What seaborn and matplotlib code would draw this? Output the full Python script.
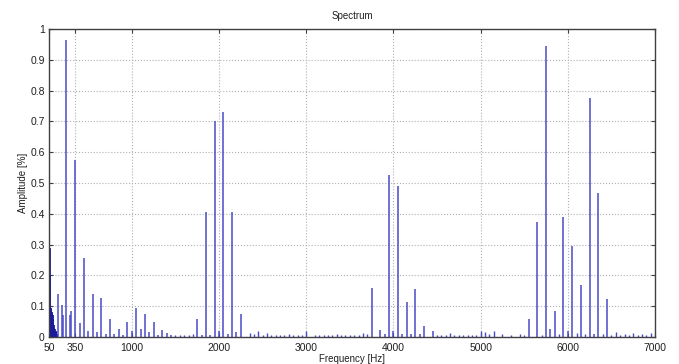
import matplotlib
matplotlib.use("Agg")
import matplotlib.pyplot as plt
import seaborn as sns
from matplotlib.ticker import FuncFormatter

# ---- data ----
# low-frequency dense cluster
low_freq = [58, 63, 66, 70, 74, 78, 82, 86, 90, 95, 100, 105, 110, 115, 120, 125, 130, 135, 140, 145]
low_amp = [0.29, 0.20, 0.10, 0.095, 0.09, 0.085, 0.082, 0.075, 0.07, 0.06, 0.05, 0.04, 0.03,
           0.025, 0.02, 0.018, 0.015, 0.012, 0.01, 0.01]

# harmonic lines
harm_freq = [150, 200, 210, 250, 290, 300, 350, 400, 450, 500, 550, 600, 650, 700, 750, 800,
             850, 900, 950, 1000, 1050, 1100, 1150, 1200, 1250, 1300, 1350, 1400, 1450,
             1750, 1800, 1850, 1900, 1950, 2000, 2050, 2100, 2150, 2200, 2250,
             3750, 3850, 3900, 3950, 4000, 4050, 4100, 4150, 4200, 4250, 4300, 4350, 4450,
             5550, 5650, 5750, 5800, 5850, 5950, 6000, 6050, 6150, 6250, 6300, 6350, 6450]
harm_amp = [0.14, 0.105, 0.07, 0.965, 0.07, 0.085, 0.575, 0.045, 0.255, 0.02, 0.14, 0.015, 0.125,
            0.01, 0.06, 0.01, 0.025, 0.008, 0.05, 0.02, 0.095, 0.025, 0.075, 0.015, 0.05, 0.008,
            0.022, 0.012, 0.008,
            0.06, 0.008, 0.405, 0.008, 0.70, 0.02, 0.73, 0.01, 0.405, 0.015, 0.075,
            0.16, 0.022, 0.01, 0.525, 0.02, 0.49, 0.01, 0.115, 0.01, 0.155, 0.01, 0.037, 0.018,
            0.057, 0.373, 0.945, 0.025, 0.083, 0.389, 0.02, 0.295, 0.17, 0.775, 0.01, 0.467, 0.124]

# small background lines
bg_freq = [1500, 1550, 1600, 1650, 1700, 2350, 2400, 2450, 2500, 2550, 2600, 2650, 2700, 2750,
           2800, 2850, 2900, 2950, 3000, 3100, 3150, 3200, 3250, 3300, 3350, 3400, 3450, 3500,
           3550, 3600, 3650, 3700, 4500, 4550, 4600, 4650, 4700, 4750, 4800, 4850, 4900, 4950,
           5000, 5050, 5100, 5150, 5250, 5350, 5450, 5500, 5700, 5900, 6100, 6200, 6400, 6500,
           6550, 6600, 6650, 6700, 6750, 6800, 6850, 6900, 6950]
bg_amp = [0.006, 0.008, 0.006, 0.008, 0.01, 0.012, 0.01, 0.02, 0.006, 0.012, 0.008, 0.006, 0.008,
          0.006, 0.01, 0.006, 0.008, 0.006, 0.02, 0.006, 0.008, 0.006, 0.008, 0.006, 0.01, 0.006,
          0.008, 0.006, 0.006, 0.008, 0.012, 0.01, 0.006, 0.008, 0.006, 0.012, 0.008, 0.006, 0.006,
          0.008, 0.006, 0.006, 0.018, 0.015, 0.01, 0.018, 0.01, 0.006, 0.01, 0.008, 0.006, 0.01,
          0.012, 0.01, 0.01, 0.008, 0.015, 0.006, 0.01, 0.006, 0.012, 0.006, 0.01, 0.008, 0.012]

x_ticks = [50, 350, 1000, 2000, 3000, 4000, 5000, 6000, 7000]
y_ticks = [0, 0.1, 0.2, 0.3, 0.4, 0.5, 0.6, 0.7, 0.8, 0.9, 1.0]

# ---- plot ----
sns.set_theme(style="whitegrid")
plt.rcParams['font.family'] = ['Liberation Sans', 'DejaVu Sans']

fig = plt.figure(figsize=(6.79, 3.64), dpi=100)
ax = fig.add_axes([0.0722, 0.0742, 0.8925, 0.8461])

stem_color = "#4a4ac8"
ax.vlines(bg_freq, 0, bg_amp, color=stem_color, linewidth=1.0)
ax.vlines(low_freq, 0, low_amp, color="#1a1a9a", linewidth=1.3)
ax.vlines(harm_freq, 0, harm_amp, color=stem_color, linewidth=1.1)

ax.set_xlim(50, 7000)
ax.set_ylim(0, 1)
ax.set_xticks(x_ticks)
ax.set_yticks(y_ticks)
ax.yaxis.set_major_formatter(FuncFormatter(lambda v, p: f"{v:g}"))

ax.grid(True, linestyle=":", color="#b0b0b0", linewidth=0.8)
for s in ax.spines.values():
    s.set_color("#404040")
    s.set_linewidth(1.0)
    s.set_visible(True)

ax.tick_params(axis="both", direction="in", length=3, width=0.8, color="#404040",
               labelsize=7.5, labelcolor="#202020",
               top=True, right=True, bottom=True, left=True)
ax.tick_params(axis="x", pad=4)
ax.tick_params(axis="y", pad=3)

ax.set_title("Spectrum", fontsize=7, color="#202020", pad=7)
ax.set_xlabel("Frequency [Hz]", fontsize=7, color="#202020", labelpad=1)
ax.set_ylabel("Amplitude [%]", fontsize=7, color="#202020", labelpad=2)

fig.savefig("out.png", dpi=100, facecolor="white")
